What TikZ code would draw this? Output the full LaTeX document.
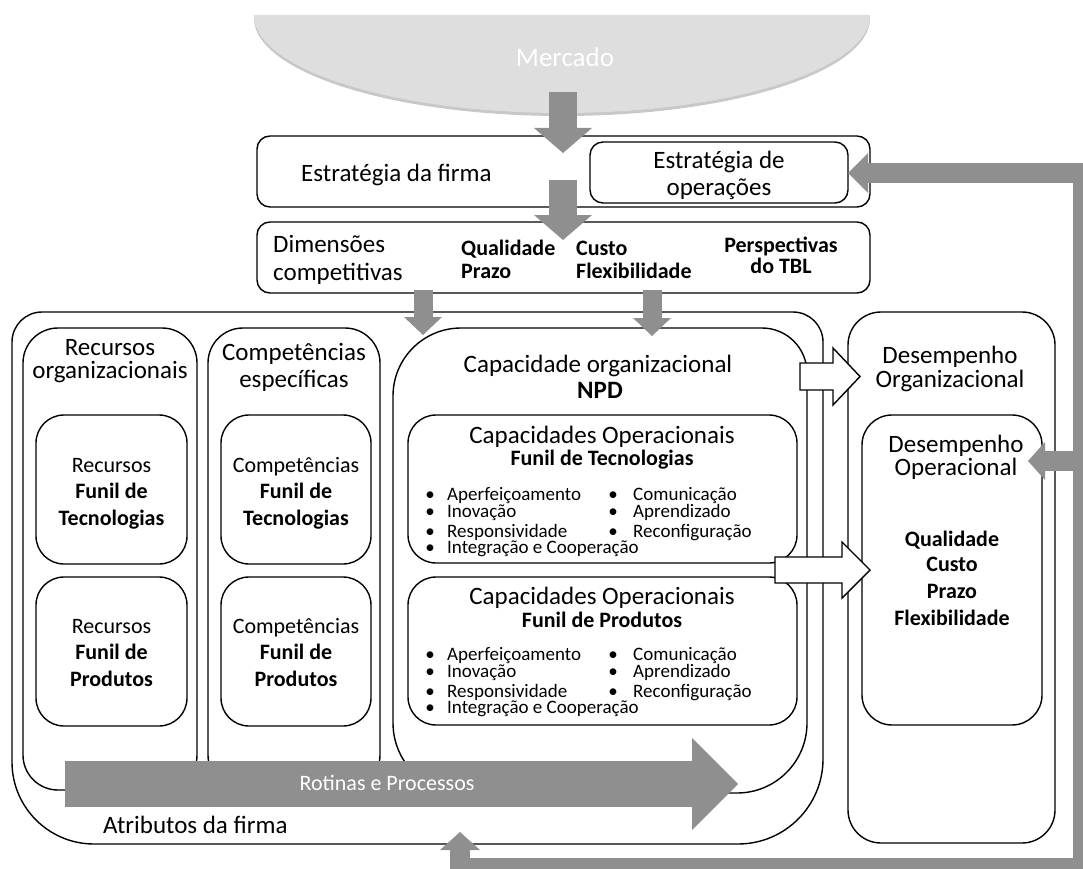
\documentclass[tikz,border=0pt]{standalone}
\usepackage{fontspec}
\setmainfont{Carlito}
\usetikzlibrary{arrows.meta}
\definecolor{flowgray}{RGB}{143,143,143}
\definecolor{marketgray}{RGB}{222,222,222}
\definecolor{marketshade}{RGB}{200,200,200}

\begin{document}
\begin{tikzpicture}[x=1pt,y=-1pt,
  frame/.style={draw=black, line width=1.4pt, fill=white},
  txt/.style={inner sep=0pt, anchor=base, text=black},
  hd/.style={txt, font=\fontsize{25}{28}\selectfont},
  hdl/.style={hd, anchor=base west},
  hdb/.style={txt, font=\fontsize{25}{28}\selectfont\bfseries},
  sm/.style={txt, font=\fontsize{22}{25}\selectfont},
  bd/.style={txt, font=\fontsize{22}{25}\selectfont\bfseries},
  bdl/.style={bd, anchor=base west},
  bl/.style={txt, anchor=base west, font=\fontsize{19}{21}\selectfont},
  dot/.style={txt, font=\fontsize{19}{21}\selectfont},
  flow/.style={draw=flowgray, line width=#1, line cap=butt, line join=miter},
  bigtip/.style={-{Triangle[width=58pt,length=25pt,line width=0pt]}},
  midtip/.style={-{Triangle[width=38pt,length=18pt,line width=0pt]}},
  fbtip/.style={-{Triangle[width=40pt,length=19pt,line width=0pt]}},
  hollow/.style={draw=black, line width=1.4pt, fill=white, line join=miter}
]
\useasboundingbox (0,0) rectangle (1083,869);
\clip (0,0) rectangle (1083,869);

% --- market (half ellipse) ---
\fill[marketshade] (254,18) -- (870,18) .. controls (870,72) and (732,116) .. (562,116)
  .. controls (392,116) and (254,72) .. (254,18) -- cycle;
\fill[marketgray] (254,15) -- (870,15) .. controls (870,69) and (732,113) .. (562,113)
  .. controls (392,113) and (254,69) .. (254,15) -- cycle;

% --- strategy rows ---
\draw[frame, rounded corners=13pt] (257,136) rectangle (870,207);
\draw[frame, rounded corners=13pt] (590,142) rectangle (848,203);
\draw[frame, rounded corners=13pt] (257,222) rectangle (870,293);

% --- firm attributes ---
\draw[frame] (42,312) -- (793,312) arc[start angle=90,end angle=0,radius=30pt]
  -- (823,759) arc[start angle=0,end angle=-90,radius=85pt]
  -- (94,844) arc[start angle=270,end angle=180,radius=82pt]
  -- (12,342) arc[start angle=180,end angle=90,radius=30pt] -- cycle;

\draw[frame, rounded corners=35pt] (23,328) rectangle (197,790);
\draw[frame, rounded corners=35pt] (208,328) rectangle (380,790);
\draw[frame, rounded corners=28pt] (36,415) rectangle (187,564);
\draw[frame, rounded corners=28pt] (36,577) rectangle (187,726);
\draw[frame, rounded corners=28pt] (221,415) rectangle (371,564);
\draw[frame, rounded corners=28pt] (221,577) rectangle (371,726);

% organisational capability
\draw[frame] (461,328) -- (762,328) arc[start angle=90,end angle=0,radius=45pt]
  -- (807,723) arc[start angle=0,end angle=-90,radius=70pt]
  -- (463,793) arc[start angle=270,end angle=180,radius=70pt]
  -- (393,396) arc[start angle=180,end angle=90,radius=68pt] -- cycle;
\draw[frame, rounded corners=28pt] (408,415) rectangle (797,563);
\draw[frame, rounded corners=28pt] (408,577) rectangle (797,725);

% --- performance ---
\draw[frame, rounded corners=33pt] (848,312) rectangle (1055,843);
\draw[frame, rounded corners=30pt] (862,415) rectangle (1042,725);

% --- hollow arrows towards performance ---
\draw[hollow] (800,363) -- (833,363) -- (833,348) -- (860,376.5) -- (833,405) -- (833,390) -- (800,390) -- cycle;
\draw[hollow] (775,557) -- (842,557) -- (842,542) -- (870,570) -- (842,598) -- (842,583) -- (775,583) -- cycle;

% --- routines and processes ---
\coordinate (rpTail) at (65,784);
\coordinate (rpTip) at (738,784);
\draw[flow=46pt, -{Triangle[width=92pt,length=46pt,line width=0pt]}] (rpTail) -- (rpTip);
\node[txt, text=white, font=\fontsize{22}{25}\selectfont] (rotinas) at (387,790) {Rotinas e Processos};

% --- downward flow ---
\coordinate (mkOut) at (563,92);
\coordinate (stIn) at (563,153);
\coordinate (stOut) at (563,180);
\coordinate (dmIn) at (563,240);
\coordinate (dmOutA) at (423,290);
\coordinate (atIn) at (423,335);
\coordinate (dmOutB) at (652,290);
\coordinate (cpIn) at (652,336);
\draw[flow=28pt, bigtip] (mkOut) -- (stIn);
\draw[flow=28pt, bigtip] (stOut) -- (dmIn);
\draw[flow=19pt, midtip] (dmOutA) -- (atIn);
\draw[flow=19pt, midtip] (dmOutB) -- (cpIn);

% --- feedback loop ---
\coordinate (fbUp) at (460,832);
\coordinate (fbA) at (460,868);
\coordinate (fbB) at (1083,868);
\coordinate (fbC) at (1083,173);
\coordinate (fbOps) at (848,173);
\coordinate (fbMid) at (1083,461);
\coordinate (fbPerf) at (1028,461);
\draw[flow=20pt, {Triangle[width=40pt,length=18pt,line width=0pt]}-{Triangle[width=40pt,length=20pt,line width=0pt]}]
  (fbUp) -- (fbA) -- (fbB) -- (fbC) -- (fbOps);
\draw[flow=20pt, -{Triangle[width=38pt,length=17pt,line width=0pt]}] (fbMid) -- (fbPerf);

% --- texts ---
\node[txt, text=white, font=\fontsize{27}{30}\selectfont] (mercado) at (565,67) {Mercado};
\node[hdl] (estFirma) at (301,182) {Estratégia da firma};
\node[hd] (estOps1) at (719,168) {Estratégia de};
\node[hd] (estOps2) at (719,195) {operações};
\node[hdl] (dim1) at (273,252) {Dimensões};
\node[hdl] (dim2) at (273,280) {competitivas};
\node[bdl] (qual) at (461,255) {Qualidade};
\node[bdl] (praz) at (461,278) {Prazo};
\node[bdl] (cust) at (576,255) {Custo};
\node[bdl] (flex) at (576,278) {Flexibilidade};
\node[bd] (tbl1) at (781,252) {Perspectivas};
\node[bd] (tbl2) at (781,273) {do TBL};

\node[hd] (recH1) at (110,355) {Recursos};
\node[hd] (recH2) at (110,378) {organizacionais};
\node[hd] (comH1) at (294,360) {Competências};
\node[hd] (comH2) at (294,387) {específicas};

\node[sm] (rt1) at (111.5,472) {Recursos};
\node[bd] (rt2) at (111.5,498) {Funil de};
\node[bd] (rt3) at (111.5,525) {Tecnologias};
\node[sm] (rp1) at (111.5,633) {Recursos};
\node[bd] (rp2) at (111.5,659) {Funil de};
\node[bd] (rp3) at (111.5,686) {Produtos};
\node[sm] (ct1) at (296,472) {Competências};
\node[bd] (ct2) at (296,498) {Funil de};
\node[bd] (ct3) at (296,525) {Tecnologias};
\node[sm] (cp1) at (296,633) {Competências};
\node[bd] (cp2) at (296,659) {Funil de};
\node[bd] (cp3) at (296,686) {Produtos};

\node[hd] (capH1) at (598,372) {Capacidade organizacional};
\node[hdb] (capH2) at (600,398) {NPD};

\node[hd] (coT1) at (602,443) {Capacidades Operacionais};
\node[bd] (coT2) at (602,465) {Funil de Tecnologias};
\node[dot] (tb1) at (430,500) {\textbullet}; \node[bl] (tl1) at (447,500) {Aperfeiçoamento};
\node[dot] (tb2) at (430,517) {\textbullet}; \node[bl] (tl2) at (447,517) {Inovação};
\node[dot] (tb3) at (430,537) {\textbullet}; \node[bl] (tl3) at (447,537) {Responsividade};
\node[dot] (tb4) at (430,553) {\textbullet}; \node[bl] (tl4) at (447,553) {Integração e Cooperação};
\node[dot] (tb5) at (613,500) {\textbullet}; \node[bl] (tl5) at (633,500) {Comunicação};
\node[dot] (tb6) at (613,517) {\textbullet}; \node[bl] (tl6) at (633,517) {Aprendizado};
\node[dot] (tb7) at (613,537) {\textbullet}; \node[bl] (tl7) at (633,537) {Reconfiguração};

\node[hd] (coP1) at (602,604) {Capacidades Operacionais};
\node[bd] (coP2) at (602,627) {Funil de Produtos};
\node[dot] (pb1) at (430,660) {\textbullet}; \node[bl] (pl1) at (447,660) {Aperfeiçoamento};
\node[dot] (pb2) at (430,677) {\textbullet}; \node[bl] (pl2) at (447,677) {Inovação};
\node[dot] (pb3) at (430,697) {\textbullet}; \node[bl] (pl3) at (447,697) {Responsividade};
\node[dot] (pb4) at (430,713) {\textbullet}; \node[bl] (pl4) at (447,713) {Integração e Cooperação};
\node[dot] (pb5) at (613,660) {\textbullet}; \node[bl] (pl5) at (633,660) {Comunicação};
\node[dot] (pb6) at (613,677) {\textbullet}; \node[bl] (pl6) at (633,677) {Aprendizado};
\node[dot] (pb7) at (613,697) {\textbullet}; \node[bl] (pl7) at (633,697) {Reconfiguração};

\node[hd] (doH1) at (950,363) {Desempenho};
\node[hd] (doH2) at (950,387) {Organizacional};
\node[hd] (dpH1) at (956,452) {Desempenho};
\node[hd] (dpH2) at (956,475) {Operacional};
\node[bd] (dq) at (952,546) {Qualidade};
\node[bd] (dc) at (952,571) {Custo};
\node[bd] (dp) at (952,598) {Prazo};
\node[bd] (df) at (952,625) {Flexibilidade};

\node[hdl] (atrib) at (103,833) {Atributos da firma};
\end{tikzpicture}
\end{document}
